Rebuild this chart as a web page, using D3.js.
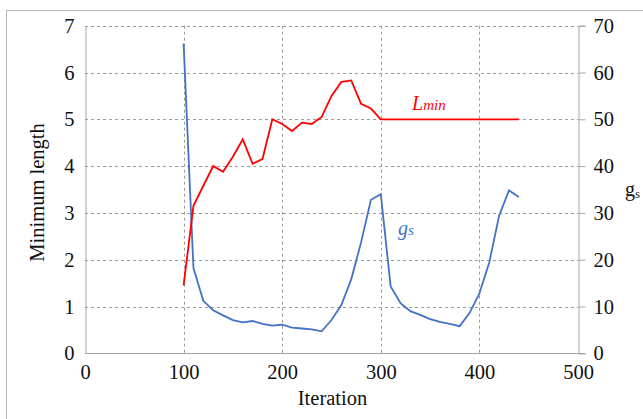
<!DOCTYPE html>
<html><head><meta charset="utf-8">
<script src="https://cdn.jsdelivr.net/npm/d3@7"></script>
<style>
html,body{margin:0;padding:0;background:#fff;}
svg{display:block;font-family:"Liberation Serif","Times New Roman",serif;}
</style></head>
<body>
<script>
const iterations = [100,110,120,130,140,150,160,170,180,190,200,210,220,230,240,250,260,270,280,290,300,310,320,330,340,350,360,370,380,390,400,410,420,430,440];
const lminValues = [1.45,3.15,3.58,4.0,3.88,4.2,4.57,4.05,4.15,5.0,4.9,4.75,4.93,4.9,5.05,5.5,5.8,5.83,5.33,5.23,5.0,5.0,5.0,5.0,5.0,5.0,5.0,5.0,5.0,5.0,5.0,5.0,5.0,5.0,5.0];
const gsValues = [66.2,18.2,11.2,9.2,8.1,7.1,6.6,6.9,6.3,5.9,6.1,5.5,5.3,5.1,4.7,7.1,10.3,15.8,23.7,32.8,34.0,14.3,10.7,9.0,8.2,7.3,6.7,6.3,5.8,8.6,12.8,19.4,29.4,34.8,33.4];
const xTicks = [0,100,200,300,400,500];
const leftTicks = [0,1,2,3,4,5,6,7];
const rightTicks = [0,10,20,30,40,50,60,70];

const W = 643, H = 419;
const svg = d3.select("body").append("svg").attr("width", W).attr("height", H);

// outer border
svg.append("rect").attr("x", 6.5).attr("y", 10.5).attr("width", W + 10).attr("height", H + 10)
  .attr("fill", "none").attr("stroke", "#b8b8b8").attr("stroke-width", 1);

const x = d3.scaleLinear().domain([0, 500]).range([85, 578]);
const yL = d3.scaleLinear().domain([0, 7]).range([353.3, 25.7]);
const yR = d3.scaleLinear().domain([0, 70]).range([353.3, 25.7]);

const grid = svg.append("g").attr("stroke", "#9a9a9a").attr("stroke-dasharray", "3,3").attr("stroke-width", 1);
leftTicks.filter(d => d > 0).forEach(d => {
  grid.append("line").attr("x1", x(0)).attr("x2", x(500)).attr("y1", Math.round(yL(d)) + 0.5).attr("y2", Math.round(yL(d)) + 0.5);
});
xTicks.filter(d => d > 0 && d < 500).forEach(d => {
  grid.append("line").attr("x1", Math.round(x(d)) + 0.5).attr("x2", Math.round(x(d)) + 0.5).attr("y1", yL(7)).attr("y2", yL(0));
});

// axes
const axisColor = "#a6a6a6";
const fmt = d3.format("d");
const bottom = svg.append("g").attr("transform", `translate(0,${Math.round(yL(0)) + 0.5})`)
  .call(d3.axisBottom(x).tickValues(xTicks).tickFormat(fmt).tickSize(0).tickPadding(11));
const left = svg.append("g").attr("transform", `translate(${Math.round(x(0)) + 0.5},0)`)
  .call(d3.axisLeft(yL).tickValues(leftTicks).tickFormat(fmt).tickSize(0).tickPadding(11));
const right = svg.append("g").attr("transform", `translate(${Math.round(x(500)) + 0.5},0)`)
  .call(d3.axisRight(yR).tickValues(rightTicks).tickFormat(fmt).tickSize(7).tickPadding(8));
[bottom, left, right].forEach(g => {
  g.select(".domain").attr("stroke", axisColor);
  g.selectAll(".tick line").attr("stroke", axisColor);
  g.selectAll("text").attr("font-family", '"Liberation Serif", serif').attr("font-size", 20.5).attr("fill", "#111");
});
bottom.select(".domain").attr("d", `M${x(0)},0H${x(500) + 7}`);

// lines
const lineL = d3.line().x((d, i) => x(iterations[i])).y(d => yL(d));
const lineR = d3.line().x((d, i) => x(iterations[i])).y(d => yR(d));
svg.append("path").datum(gsValues).attr("d", lineR).attr("fill", "none").attr("stroke", "#4472c4").attr("stroke-width", 1.8);
svg.append("path").datum(lminValues).attr("d", lineL).attr("fill", "none").attr("stroke", "#ff0000").attr("stroke-width", 1.8);

// series labels
const lt = svg.append("text").attr("x", 412).attr("y", 110).attr("fill", "#ff0000").attr("font-style", "italic");
lt.append("tspan").attr("font-size", 20).text("L");
lt.append("tspan").attr("font-size", 15).text("min");
const gt = svg.append("text").attr("x", 398).attr("y", 235).attr("fill", "#4472c4").attr("font-style", "italic");
gt.append("tspan").attr("font-size", 20).text("g");
gt.append("tspan").attr("font-size", 15).text("s");

// axis titles
svg.append("text").attr("transform", `translate(44,${(yL(0) + yL(7)) / 2 + 3}) rotate(-90)`)
  .attr("text-anchor", "middle").attr("font-size", 20.5).attr("fill", "#111").text("Minimum length");
svg.append("text").attr("x", (x(0) + x(500)) / 2 + 1).attr("y", 405).attr("text-anchor", "middle")
  .attr("font-size", 20.5).attr("fill", "#111").text("Iteration");
const rt = svg.append("text").attr("x", 625).attr("y", 196).attr("fill", "#111");
rt.append("tspan").attr("font-size", 20).text("g");
rt.append("tspan").attr("font-size", 13).attr("dy", 2).text("s");
</script>
</body></html>
